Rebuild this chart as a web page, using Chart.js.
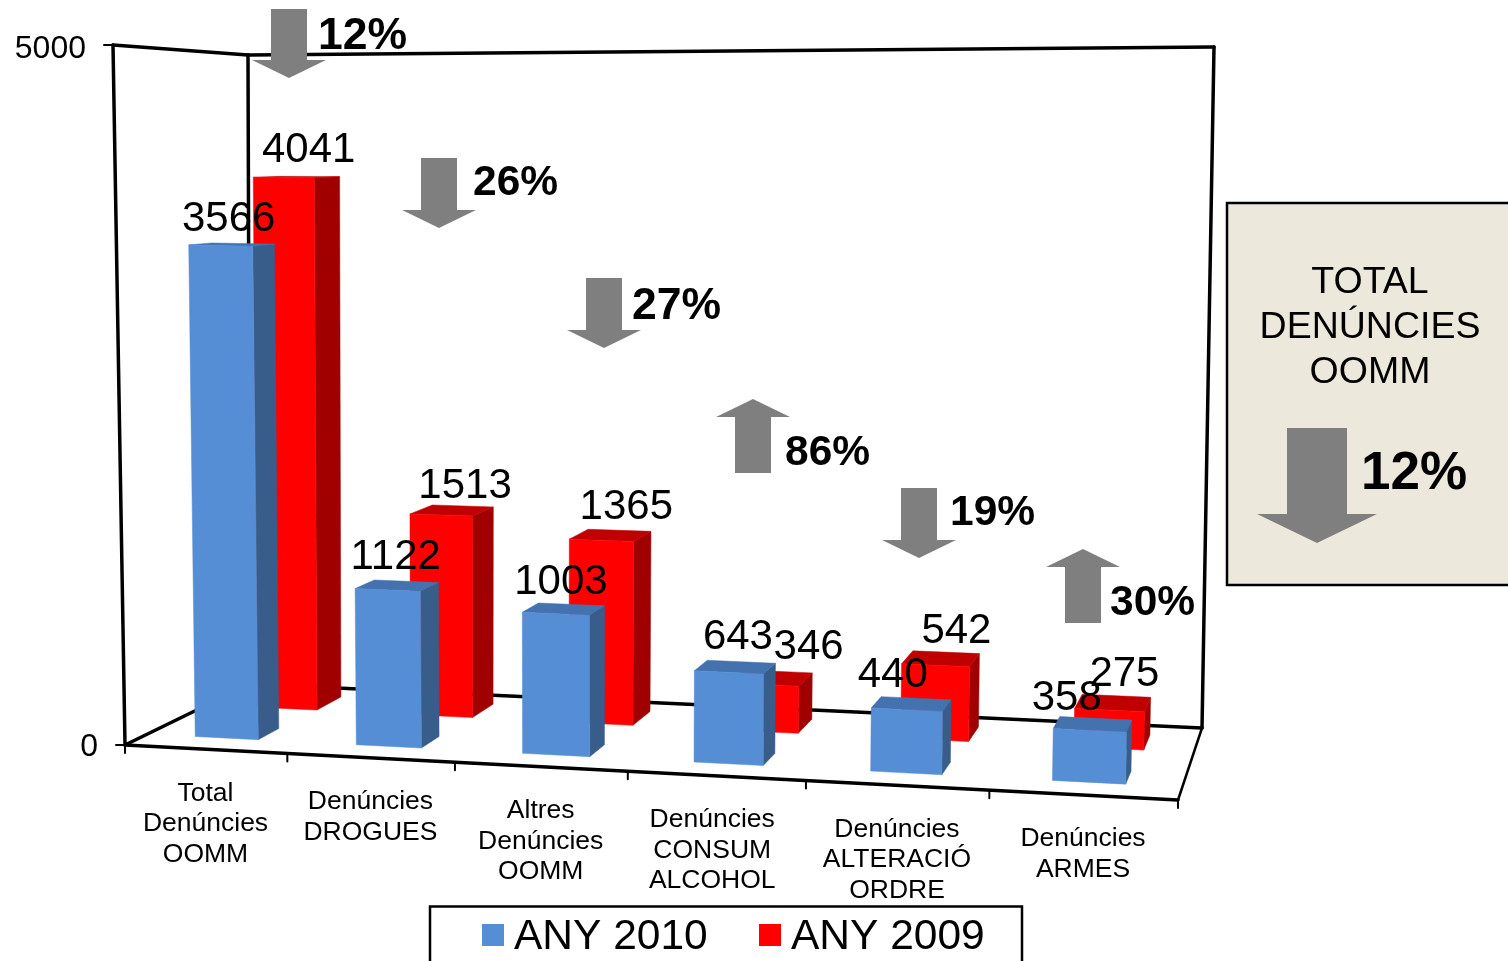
<!DOCTYPE html>
<html>
<head>
<meta charset="utf-8">
<title>Denúncies OOMM</title>
<script src="https://cdn.jsdelivr.net/npm/chart.js@4/dist/chart.umd.min.js"></script>
<style>
  html, body { margin: 0; padding: 0; background: #fff; overflow: hidden; }
  canvas { display: block; }
</style>
</head>
<body>
<canvas id="grafic" width="1508" height="961"></canvas>
<script>
/* Dades llegides del gràfic */
const categories = [
    ['Total', 'Denúncies', 'OOMM'],
    ['Denúncies', 'DROGUES'],
    ['Altres', 'Denúncies', 'OOMM'],
    ['Denúncies', 'CONSUM', 'ALCOHOL'],
    ['Denúncies', 'ALTERACIÓ', 'ORDRE'],
    ['Denúncies', 'ARMES']
];
const any2010 = [3566, 1122, 1003, 643, 440, 358];
const any2009 = [4041, 1513, 1365, 346, 542, 275];
const variacio = [-12, -26, -27, 86, -19, 30];
const yTicks = [0, 5000];
const totalVariacio = -12;
const totalTitol = ['TOTAL', 'DENÚNCIES', 'OOMM'];

/* Caixa 3D: cantonades en píxels (F = davant, B = darrere, L/R, b/t = baix/dalt) */
const box = {
    FLb: [125, 745], FRb: [1178, 800], BLb: [250, 684], BRb: [1202, 728],
    FLt: [113, 45], FRt: [1192, 60], BLt: [248, 55], BRt: [1214, 47]
};
const depth = { 'ANY 2010': [0.18, 0.36], 'ANY 2009': [0.66, 0.87] };
const shiftU = { 'ANY 2010': 0, 'ANY 2009': 0.004 };
const faces = {
    'ANY 2010': { front: '#558ED5', side: '#385D8A', top: '#4372AE' },
    'ANY 2009': { front: '#FF0000', side: '#A00000', top: '#C00000' }
};
// ajust de cada etiqueta respecte al centre superior de la barra
const nudge2010 = [[8, -26], [8, -33], [5, -31], [9, -35], [-14, -34], [-23, -32]];
const nudge2009 = [[25, -27], [24, -29], [25, -33], [43, -37], [21, -34], [15, -36]];
// fletxes: x central, y superior; text a la dreta
const arrowPos = [[289, 9, 318, 37], [439, 158, 473, 183], [604, 278, 632, 307], [753, 399, 785, 453], [919, 488, 950, 513], [1083, 549, 1110, 603]];
const catNudge = [0, 0, 0, -4, 0, 0];

const FONT = '"Liberation Sans", Arial, sans-serif';
const lerp = (a, b, t) => a + (b - a) * t;
const warp = (s) => s - 0.09 * s * (1 - s);   // perspectiva de l'eix X

function project(u, v, d) {
    const out = [];
    for (let i = 0; i < 2; i++) {
        const bot = lerp(lerp(box.FLb[i], box.FRb[i], u), lerp(box.BLb[i], box.BRb[i], u), d);
        const top = lerp(lerp(box.FLt[i], box.FRt[i], u), lerp(box.BLt[i], box.BRt[i], u), d);
        out.push(lerp(bot, top, v));
    }
    return out;
}

function poly(ctx, pts, fill) {
    ctx.beginPath();
    pts.forEach((p, i) => i ? ctx.lineTo(p[0], p[1]) : ctx.moveTo(p[0], p[1]));
    ctx.closePath();
    ctx.fillStyle = fill;
    ctx.fill();
    ctx.strokeStyle = fill;
    ctx.lineWidth = 0.5;
    ctx.stroke();
}

function line(ctx, a, b, w) {
    ctx.beginPath();
    ctx.moveTo(a[0], a[1]);
    ctx.lineTo(b[0], b[1]);
    ctx.lineWidth = w;
    ctx.strokeStyle = '#000';
    ctx.stroke();
}

function drawBar3D(ctx, el, area, label) {
    const f = faces[label], [d0, d1] = depth[label], sh = shiftU[label];
    const uL = warp((el.x - el.width / 2 - area.left) / area.width) + sh;
    const uR = warp((el.x + el.width / 2 - area.left) / area.width) + sh;
    const v = (area.bottom - el.y) / area.height;
    poly(ctx, [project(uR, 0, d0), project(uR, 0, d1), project(uR, v, d1), project(uR, v, d0)], f.side);
    poly(ctx, [project(uL, v, d0), project(uR, v, d0), project(uR, v, d1), project(uL, v, d1)], f.top);
    poly(ctx, [project(uL, 0, d0), project(uR, 0, d0), project(uR, v, d0), project(uL, v, d0)], f.front);
}

function drawArrow(ctx, cx, top, up, shaft, head, len, headLen) {
    ctx.fillStyle = '#7F7F7F';
    ctx.beginPath();
    if (up) {
        ctx.moveTo(cx, top);
        ctx.lineTo(cx + head / 2, top + headLen);
        ctx.lineTo(cx + shaft / 2, top + headLen);
        ctx.lineTo(cx + shaft / 2, top + len);
        ctx.lineTo(cx - shaft / 2, top + len);
        ctx.lineTo(cx - shaft / 2, top + headLen);
        ctx.lineTo(cx - head / 2, top + headLen);
    } else {
        ctx.moveTo(cx - shaft / 2, top);
        ctx.lineTo(cx + shaft / 2, top);
        ctx.lineTo(cx + shaft / 2, top + len - headLen);
        ctx.lineTo(cx + head / 2, top + len - headLen);
        ctx.lineTo(cx, top + len);
        ctx.lineTo(cx - head / 2, top + len - headLen);
        ctx.lineTo(cx - shaft / 2, top + len - headLen);
    }
    ctx.closePath();
    ctx.fill();
}

/* Marc 3D, barres, etiquetes i anotacions */
const grafic3D = {
    id: 'grafic3D',
    beforeDatasetsDraw(chart) {
        const ctx = chart.ctx, yScale = chart.scales.y;
        const n = categories.length;
        ctx.save();
        ctx.lineCap = 'round';
        line(ctx, box.FLt, box.FLb, 3.5);
        line(ctx, box.FLt, box.BLt, 3.5);
        line(ctx, box.BLt, box.BLb, 3.5);
        line(ctx, box.BLt, box.BRt, 3.5);
        line(ctx, box.BRt, box.BRb, 3.5);
        line(ctx, box.BLb, box.BRb, 3.5);
        line(ctx, box.FLb, box.BLb, 3.5);
        line(ctx, box.FLb, box.FRb, 3.5);
        line(ctx, box.FRb, box.BRb, 2.5);
        // marques de l'eix X
        for (let k = 0; k <= n; k++) {
            const p = project(warp(k / n), 0, 0);
            line(ctx, p, [p[0], p[1] + 8], 2);
        }
        // eix Y
        ctx.font = '32px ' + FONT;
        ctx.fillStyle = '#000';
        ctx.textAlign = 'right';
        ctx.textBaseline = 'middle';
        yTicks.forEach(t => {
            const v = (yScale.bottom - yScale.getPixelForValue(t)) / (yScale.bottom - yScale.top);
            const p = project(0, v, 0);
            line(ctx, [p[0] - 9, p[1]], p, 2);
            ctx.fillText(String(t), p[0] - 27, p[1] + (t ? 4 : 2));
        });
        // etiquetes de categoria
        ctx.font = '26.5px ' + FONT;
        ctx.textAlign = 'center';
        categories.forEach((lines, i) => {
            const p = project(warp((i + 0.5) / n), 0, 0);
            lines.forEach((t, j) => ctx.fillText(t, p[0] + catNudge[i], p[1] + 44 + j * 30.5));
        });
        ctx.restore();
    },
    beforeDatasetDraw(chart, args) {
        const ds = chart.data.datasets[args.index];
        chart.ctx.save();
        args.meta.data.forEach(el => drawBar3D(chart.ctx, el, chart.chartArea, ds.label));
        chart.ctx.restore();
        return false;
    },
    afterDatasetsDraw(chart) {
        const ctx = chart.ctx, area = chart.chartArea;
        ctx.save();
        // valors de les barres
        ctx.font = '42px ' + FONT;
        ctx.fillStyle = '#000';
        ctx.textAlign = 'center';
        ctx.textBaseline = 'middle';
        [[any2009, nudge2009, 1], [any2010, nudge2010, 0]].forEach(([vals, nudge, dsIdx]) => {
            const meta = chart.getDatasetMeta(dsIdx);
            const label = chart.data.datasets[dsIdx].label;
            vals.forEach((val, i) => {
                const el = meta.data[i];
                const p = project(warp((el.x - area.left) / area.width) + shiftU[label], (area.bottom - el.y) / area.height, depth[label][0]);
                ctx.fillText(String(val), p[0] + nudge[i][0], p[1] + nudge[i][1]);
            });
        });
        // fletxes de variació
        variacio.forEach((val, i) => {
            const [cx, top, tx, ty] = arrowPos[i];
            drawArrow(ctx, cx, top, val > 0, 36, 74, i === 0 ? 69 : (val > 0 ? 74 : 70), 18);
            ctx.fillStyle = '#000';
            ctx.font = 'bold ' + (i === 0 || i === 2 ? 44.5 : 42.5) + 'px ' + FONT;
            ctx.textAlign = 'left';
            ctx.fillText(Math.abs(val) + '%', tx, ty);
        });
        // requadre del total
        ctx.fillStyle = '#ECE9DC';
        ctx.strokeStyle = '#000';
        ctx.lineWidth = 2.5;
        ctx.fillRect(1227, 203, 290, 382);
        ctx.strokeRect(1227, 203, 290, 382);
        ctx.fillStyle = '#000';
        ctx.font = '37.5px ' + FONT;
        ctx.textAlign = 'center';
        totalTitol.forEach((t, j) => ctx.fillText(t, 1370, 283 + j * 45));
        drawArrow(ctx, 1317, 428, totalVariacio > 0, 60, 120, 115, 29);
        ctx.fillStyle = '#000';
        ctx.font = 'bold 53px ' + FONT;
        ctx.textAlign = 'left';
        ctx.fillText(Math.abs(totalVariacio) + '%', 1361, 474);
        // llegenda
        ctx.lineWidth = 2.5;
        ctx.strokeRect(430, 906.5, 592, 70);
        ctx.font = '42.5px ' + FONT;
        chart.data.datasets.forEach((ds, i) => {
            const x = 482 + i * 277;
            ctx.fillStyle = ds.backgroundColor;
            ctx.fillRect(x, 924, 22, 22);
            ctx.fillStyle = '#000';
            ctx.fillText(ds.label, x + 32, 937);
        });
        ctx.restore();
    }
};

new Chart(document.getElementById('grafic').getContext('2d'), {
    type: 'bar',
    data: {
        labels: categories,
        datasets: [
            { label: 'ANY 2010', data: any2010, backgroundColor: '#558ED5' },
            { label: 'ANY 2009', data: any2009, backgroundColor: '#FF0000' }
        ]
    },
    options: {
        responsive: false,
        animation: false,
        grouped: false,
        barPercentage: 0.395,
        categoryPercentage: 1,
        layout: { padding: { left: 125, right: 330, top: 45, bottom: 216 } },
        scales: {
            x: { display: false },
            y: { display: false, min: 0, max: 5000, ticks: { stepSize: 5000 } }
        },
        plugins: { legend: { display: false }, tooltip: { enabled: false } }
    },
    plugins: [grafic3D]
});
</script>
</body>
</html>
